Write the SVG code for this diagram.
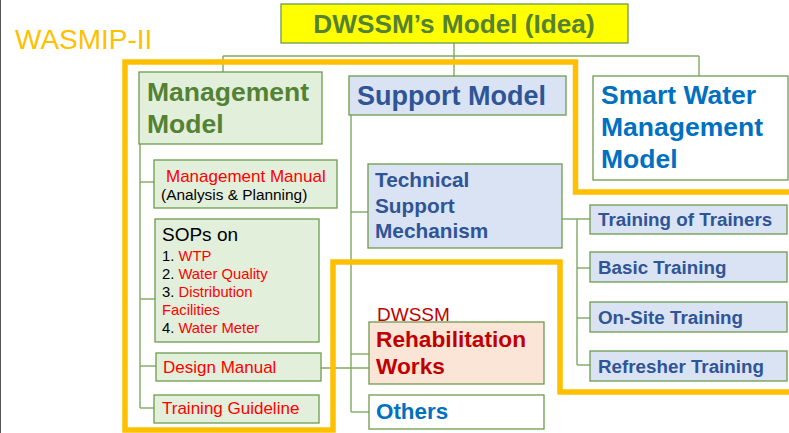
<svg xmlns="http://www.w3.org/2000/svg" width="789" height="433" viewBox="0 0 789 433">
<style>
text{font-family:"Liberation Sans",Arial,sans-serif}
.b{font-weight:bold}
.gbox{fill:#E2EFDA;stroke:#6E9B4C;stroke-width:1.3}
.bbox{fill:#DAE3F3;stroke:#6E9B4C;stroke-width:1.3}
.wbox{fill:#FFFFFF;stroke:#6E9B4C;stroke-width:1.3}
.conn line,.conn polyline{stroke:#7FA862;stroke-width:1.4;fill:none}
.green{fill:#548235}
.navy{fill:#2F5597}
.blue{fill:#0070C0}
.red{fill:#FF0000}
.dred{fill:#C00000}
</style>
<rect x="0" y="0" width="789" height="433" fill="#FFFFFF"/>
<line x1="0.5" y1="0" x2="0.5" y2="433" stroke="#555555" stroke-width="1"/>

<g id="connectors" class="conn">
  <line x1="454" y1="43" x2="454" y2="76"/>
  <line x1="223" y1="56" x2="699" y2="56"/>
  <line x1="223" y1="56" x2="223" y2="72"/>
  <line x1="699" y1="56" x2="699" y2="76"/>
  <line x1="140" y1="144" x2="140" y2="408"/>
  <line x1="140" y1="182" x2="154" y2="182"/>
  <line x1="140" y1="299" x2="155" y2="299"/>
  <line x1="140" y1="366" x2="156" y2="366"/>
  <line x1="140" y1="408" x2="154" y2="408"/>
  <line x1="351" y1="115" x2="351" y2="412"/>
  <line x1="351" y1="212" x2="368" y2="212"/>
  <line x1="351" y1="354" x2="369" y2="354"/>
  <line x1="351" y1="412" x2="369" y2="412"/>
  <line x1="321" y1="368" x2="369" y2="368"/>
  <line x1="562" y1="219" x2="590" y2="219"/>
  <line x1="577" y1="219" x2="577" y2="365"/>
  <line x1="577" y1="268" x2="590" y2="268"/>
  <line x1="577" y1="318" x2="590" y2="318"/>
  <line x1="577" y1="365" x2="590" y2="365"/>
</g>

<path d="M789,192 H575.5 V62 H125 V430 H333 V262 H560 V392 H789" fill="none" stroke="#FFC000" stroke-width="5.5"/>

<text x="15" y="49" font-size="28" fill="#FFC000">WASMIP-II</text>

<g id="title">
  <rect x="281" y="4" width="347" height="39" fill="#FFFF00" stroke="#6E9B4C" stroke-width="1.3"/>
  <text x="454" y="33" font-size="26.2" class="b green" text-anchor="middle">DWSSM’s Model (Idea)</text>
</g>

<g id="management-model">
  <rect x="139" y="72" width="183" height="72" class="gbox"/>
  <text x="147" y="101" font-size="26.5" class="b green">Management</text>
  <text x="147" y="133" font-size="26.5" class="b green">Model</text>
</g>

<g id="support-model">
  <rect x="349" y="76" width="217" height="39" class="bbox"/>
  <text x="357" y="105" font-size="27" class="b navy">Support Model</text>
</g>

<g id="smart-water">
  <rect x="593" y="76" width="195" height="104" class="wbox"/>
  <text x="601" y="104" font-size="26.5" class="b blue">Smart Water</text>
  <text x="601" y="136" font-size="26.5" class="b blue">Management</text>
  <text x="601" y="168" font-size="26.5" class="b blue">Model</text>
</g>

<g id="management-manual">
  <rect x="154" y="160" width="183" height="48" class="gbox"/>
  <text x="166" y="182" font-size="17" class="red">Management Manual</text>
  <text x="161" y="200" font-size="15.4" fill="#000000">(Analysis &amp; Planning)</text>
</g>

<g id="sops">
  <rect x="155" y="219" width="164" height="123" class="gbox"/>
  <text x="162" y="241" font-size="19" fill="#000000">SOPs on</text>
  <text x="162" y="261" font-size="14.8" fill="#000000">1. <tspan class="red">WTP</tspan></text>
  <text x="162" y="279" font-size="14.8" fill="#000000">2. <tspan class="red">Water Quality</tspan></text>
  <text x="162" y="297" font-size="14.8" fill="#000000">3. <tspan class="red">Distribution</tspan></text>
  <text x="162" y="315" font-size="14.8" class="red">Facilities</text>
  <text x="162" y="333" font-size="14.8" fill="#000000">4. <tspan class="red">Water Meter</tspan></text>
</g>

<g id="design-manual">
  <rect x="156" y="353" width="165" height="28" class="gbox"/>
  <text x="163" y="373" font-size="17" class="red">Design Manual</text>
</g>

<g id="training-guideline">
  <rect x="154" y="395" width="165" height="28" class="gbox"/>
  <text x="162" y="414" font-size="17" class="red">Training Guideline</text>
</g>

<g id="technical-support">
  <rect x="368" y="164" width="194" height="84" class="bbox"/>
  <text x="375" y="187" font-size="20.8" class="b navy">Technical</text>
  <text x="375" y="213" font-size="20.8" class="b navy">Support</text>
  <text x="375" y="238" font-size="20.8" class="b navy">Mechanism</text>
</g>

<g id="training-of-trainers">
  <rect x="590" y="205" width="197" height="29" class="bbox"/>
  <text x="598" y="226" font-size="18.8" class="b navy">Training of Trainers</text>
</g>
<g id="basic-training">
  <rect x="590" y="252" width="197" height="30" class="bbox"/>
  <text x="598" y="274" font-size="18.8" class="b navy">Basic Training</text>
</g>
<g id="onsite-training">
  <rect x="590" y="302" width="197" height="30" class="bbox"/>
  <text x="598" y="324" font-size="18.8" class="b navy">On-Site Training</text>
</g>
<g id="refresher-training">
  <rect x="590" y="351" width="197" height="30" class="bbox"/>
  <text x="598" y="373" font-size="18.8" class="b navy">Refresher Training</text>
</g>

<g id="rehabilitation">
  <text x="377" y="321" font-size="19" class="dred">DWSSM</text>
  <rect x="369" y="322" width="175" height="62" fill="#FBE5D6" stroke="#6E9B4C" stroke-width="1.3"/>
  <text x="376" y="347" font-size="22.7" class="b dred">Rehabilitation</text>
  <text x="376" y="374" font-size="22.7" class="b dred">Works</text>
</g>

<g id="others">
  <rect x="369" y="395" width="175" height="34" class="wbox"/>
  <text x="376" y="419" font-size="22.4" class="b blue">Others</text>
</g>
</svg>
